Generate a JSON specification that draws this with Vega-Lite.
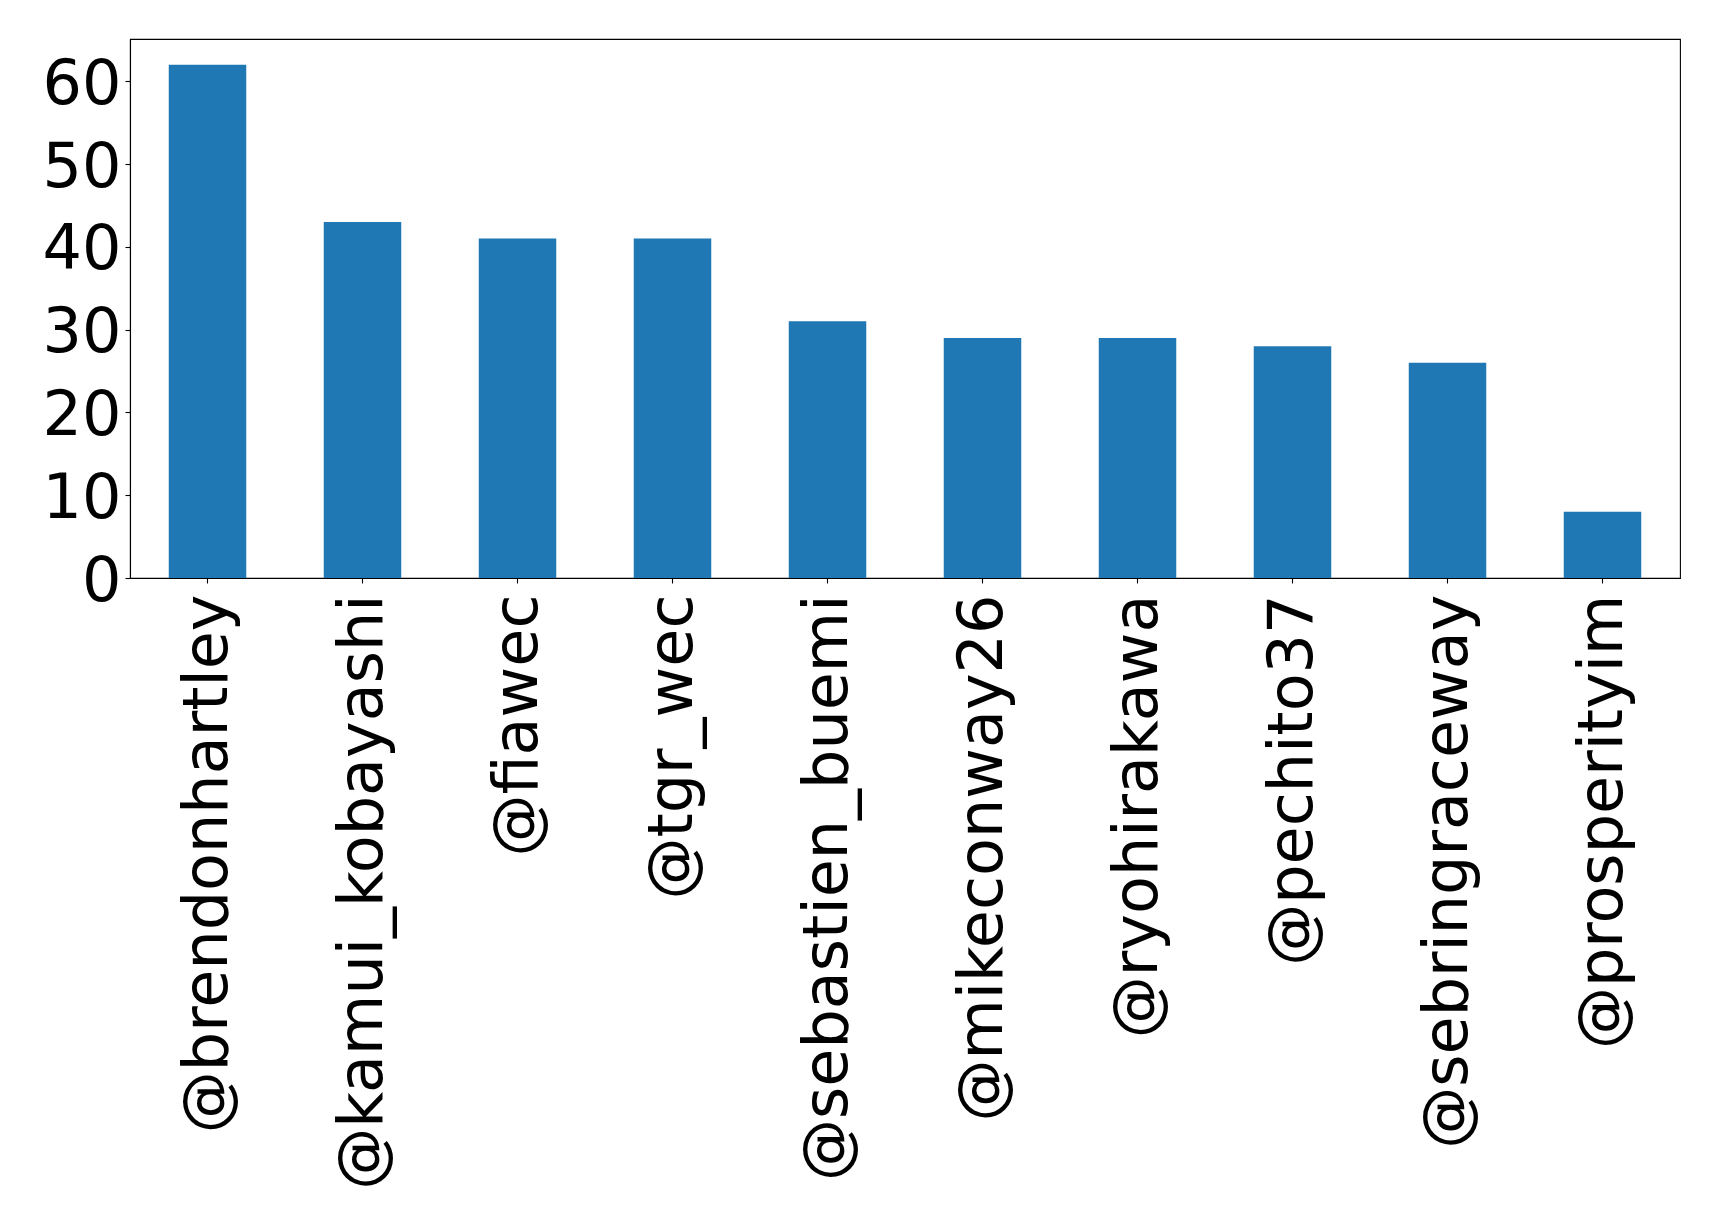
{
  "$schema": "https://vega.github.io/schema/vega-lite/v6.json",
  "width": 1550,
  "height": 539,
  "autosize": {"type": "none"},
  "padding": {"left": 130, "top": 39, "right": 40, "bottom": 649},
  "background": "white",
  "config": {
    "view": {"stroke": "black", "strokeWidth": 1.1},
    "font": "DejaVu Sans",
    "axis": {"grid": false, "domainColor": "black", "tickColor": "black", "labelColor": "black", "labelFont": "DejaVu Sans", "labelFontSize": 62, "tickSize": 5, "domainWidth": 1.1, "tickWidth": 1.1}
  },
  "data": {
    "values": [
      {"user": "@brendonhartley", "count": 62},
      {"user": "@kamui_kobayashi", "count": 43},
      {"user": "@fiawec", "count": 41},
      {"user": "@tgr_wec", "count": 41},
      {"user": "@sebastien_buemi", "count": 31},
      {"user": "@mikeconway26", "count": 29},
      {"user": "@ryohirakawa", "count": 29},
      {"user": "@pechito37", "count": 28},
      {"user": "@sebringraceway", "count": 26},
      {"user": "@prosperityim", "count": 8}
    ]
  },
  "mark": {"type": "bar", "color": "#1f77b4"},
  "encoding": {
    "x": {
      "field": "user", "type": "nominal", "sort": null, "title": null,
      "scale": {"paddingInner": 0.5, "paddingOuter": 0.25},
      "axis": {"labelAngle": 270, "labelAlign": "right", "labelBaseline": "middle", "labelPadding": 11, "labelLimit": 0, "labelOverlap": false}
    },
    "y": {
      "field": "count", "type": "quantitative", "title": null,
      "scale": {"domain": [0, 65.1], "nice": false},
      "axis": {"values": [0, 10, 20, 30, 40, 50, 60], "labelPadding": 4, "labelOffset": 3}
    }
  }
}
